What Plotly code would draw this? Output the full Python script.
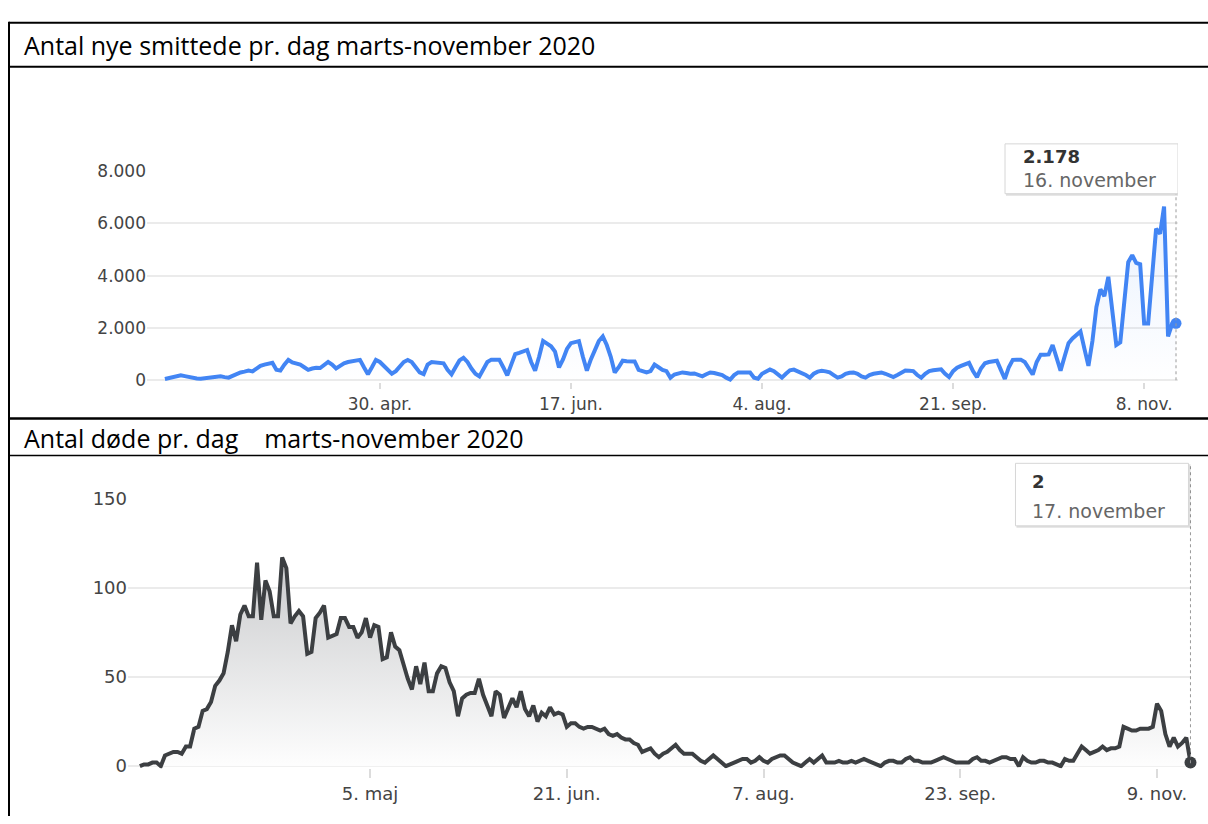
import pandas as pd
import plotly.graph_objects as go

W, H = 1208, 824

# ---- data ----
cases_start = "2020-03-07"
cases = [
    50, 80, 110, 150, 190, 160, 120, 80, 70, 60,
    80, 100, 120, 140, 150, 120, 100, 170, 240, 300,
    330, 370, 340, 450, 550, 600, 640, 670, 400, 370,
    600, 780, 680, 650, 600, 500, 400, 450, 480, 470,
    600, 700, 600, 450, 550, 650, 700, 730, 760, 780,
    500, 235, 500, 780, 700, 550, 400, 250, 350, 550,
    700, 780, 700, 500, 300, 235, 600, 700, 680, 660,
    650, 400, 230, 500, 760, 860, 700, 450, 250, 150,
    450, 700, 790, 780, 790, 500, 190, 600, 1000, 1050,
    1100, 1160, 700, 370, 900, 1500, 1400, 1300, 1100, 490,
    800, 1200, 1420, 1450, 1500, 900, 370, 800, 1200, 1500,
    1680, 1350, 900, 300, 500, 750, 730, 720, 720, 400,
    350, 300, 350, 600, 500, 400, 350, 100, 220, 280,
    300, 280, 250, 260, 200, 150, 230, 300, 280, 250,
    200, 100, 30, 200, 300, 300, 310, 300, 100, 60,
    250, 350, 410, 350, 200, 100, 250, 380, 410, 350,
    300, 200, 100, 250, 330, 360, 340, 300, 200, 100,
    150, 250, 290, 300, 250, 150, 100, 200, 250, 280,
    300, 250, 200, 120, 200, 300, 370, 360, 350, 200,
    100, 250, 350, 380, 400, 420, 250, 120, 350, 480,
    550, 620, 670, 350, 120, 450, 650, 700, 730, 750,
    400, 50, 500, 780, 790, 790, 700, 450, 220, 700,
    980, 980, 990, 1350, 800, 370, 900, 1420, 1600, 1750,
    1870, 1200, 550, 1500, 2800, 3480, 3220, 3960, 2500, 1350,
    1450, 3200, 4520, 4790, 4490, 4440, 2170, 2170, 3800, 5800,
    5610, 6650, 1680, 2150, 2178,
]

deaths_start = "2020-03-11"
deaths = [
    0, 1, 1, 2, 2, 0, 6, 7, 8, 8,
    7, 11, 11, 21, 22, 31, 32, 36, 45, 48,
    52, 64, 79, 70, 85, 90, 84, 84, 114, 82,
    104, 98, 84, 84, 117, 111, 80, 84, 87, 84,
    63, 64, 83, 86, 90, 72, 73, 74, 83, 83,
    78, 78, 72, 75, 83, 72, 79, 78, 60, 61,
    75, 67, 65, 56, 49, 43, 56, 46, 58, 42,
    42, 52, 56, 55, 47, 42, 28, 38, 40, 41,
    41, 49, 40, 34, 28, 42, 40, 27, 33, 38,
    33, 42, 32, 28, 34, 25, 30, 28, 33, 29,
    30, 29, 22, 24, 24, 22, 21, 22, 22, 21,
    20, 21, 18, 17, 18, 16, 15, 15, 13, 12,
    8, 9, 10, 7, 5, 7, 8, 10, 12, 9,
    7, 7, 7, 5, 3, 2, 4, 6, 4, 2,
    0, 1, 2, 3, 4, 4, 2, 3, 5, 3,
    2, 4, 5, 6, 6, 4, 2, 1, 0, 2,
    4, 2, 4, 6, 2, 2, 2, 3, 2, 2,
    3, 2, 3, 4, 3, 2, 1, 0, 2, 3,
    3, 2, 2, 4, 5, 3, 3, 2, 2, 2,
    3, 4, 5, 4, 3, 2, 2, 2, 2, 4,
    5, 3, 3, 2, 3, 4, 5, 5, 4, 4,
    0, 5, 3, 2, 2, 3, 3, 2, 2, 1,
    0, 4, 3, 3, 7, 11, 9, 7, 8, 9,
    11, 9, 10, 10, 11, 22, 21, 20, 20, 21,
    21, 21, 22, 35, 31, 18, 11, 16, 11, 13,
    16, 2,
]

cases_x_ticks = ["2020-04-30", "2020-06-17", "2020-08-04", "2020-09-21", "2020-11-08"]
cases_x_labels = ["30. apr.", "17. jun.", "4. aug.", "21. sep.", "8. nov."]
cases_y_ticks = [0, 2000, 4000, 6000, 8000]
cases_y_labels = ["0", "2.000", "4.000", "6.000", "8.000"]

deaths_x_ticks = ["2020-05-05", "2020-06-21", "2020-08-07", "2020-09-23", "2020-11-09"]
deaths_x_labels = ["5. maj", "21. jun.", "7. aug.", "23. sep.", "9. nov."]
deaths_y_ticks = [0, 50, 100, 150]
deaths_y_labels = ["0", "50", "100", "150"]

title_cases = "Antal nye smittede pr. dag marts-november 2020"
title_deaths = "Antal døde pr. dag\u00a0\u00a0\u00a0 marts-november 2020"

month_names = ["januar", "februar", "marts", "april", "maj", "juni", "juli",
               "august", "september", "oktober", "november", "december"]

cases_dates = pd.date_range(cases_start, periods=len(cases), freq="D")
deaths_dates = pd.date_range(deaths_start, periods=len(deaths), freq="D")


def px(x):
    return x / W


def py(y):
    return 1 - y / H


def dk_number(v):
    return f"{v:,}".replace(",", ".")


def dk_date(d):
    return f"{d.day}. {month_names[d.month - 1]}"


BLUE = "#4285f4"
DARK = "#3c3f42"
GRID = "#ebebeb"
TICK_FONT = "DejaVu Sans"

fig = go.Figure()

# ---- cases ----
fig.add_trace(go.Scatter(
    x=cases_dates, y=cases, mode="lines", xaxis="x", yaxis="y",
    line=dict(color=BLUE, width=4), fill="tozeroy",
    fillgradient=dict(type="vertical", start=0, stop=7000,
                      colorscale=[[0, "rgba(66,133,244,0)"], [1, "rgba(66,133,244,0.12)"]]),
    hoverinfo="skip", showlegend=False,
))
fig.add_trace(go.Scatter(
    x=[cases_dates[-1]], y=[cases[-1]], mode="markers", xaxis="x", yaxis="y",
    marker=dict(color=BLUE, size=11), cliponaxis=False,
    hoverinfo="skip", showlegend=False,
))

# ---- deaths ----
fig.add_trace(go.Scatter(
    x=deaths_dates, y=deaths, mode="lines", xaxis="x2", yaxis="y2",
    line=dict(color=DARK, width=4), fill="tozeroy",
    fillgradient=dict(type="vertical", start=0, stop=120,
                      colorscale=[[0, "rgba(255,255,255,1)"], [1, "#c9cacc"]]),
    hoverinfo="skip", showlegend=False,
))
fig.add_trace(go.Scatter(
    x=[deaths_dates[-1]], y=[deaths[-1]], mode="markers", xaxis="x2", yaxis="y2",
    marker=dict(color=DARK, size=12), cliponaxis=False,
    hoverinfo="skip", showlegend=False,
))

xaxis_common = dict(type="date", showgrid=False, zeroline=False, showline=False,
                    ticks="outside", tickwidth=2, tickcolor="#dcdcdc", fixedrange=True)
yaxis_common = dict(showgrid=True, gridcolor=GRID, gridwidth=1.5, zeroline=False,
                    showline=False, ticks="", fixedrange=True)

fig.update_layout(
    width=W, height=H,
    margin=dict(l=0, r=0, t=0, b=0),
    paper_bgcolor="white", plot_bgcolor="white",
    showlegend=False, hovermode=False,
    xaxis=dict(**xaxis_common, domain=[px(147), px(1178)],
               range=["2020-03-02 12:00", "2020-11-16 12:00"], anchor="y",
               tickvals=cases_x_ticks, ticktext=cases_x_labels, ticklen=6,
               tickfont=dict(family=TICK_FONT, size=17, color="#444")),
    yaxis=dict(**yaxis_common, domain=[py(380), py(164)], range=[-75, 8000], anchor="x",
               tickvals=cases_y_ticks, ticktext=cases_y_labels,
               tickfont=dict(family=TICK_FONT, size=17, color="#444")),
    xaxis2=dict(**xaxis_common, domain=[px(128), px(1191)],
                range=["2020-03-08 04:00", "2020-11-17 03:00"], anchor="y2",
                tickvals=deaths_x_ticks, ticktext=deaths_x_labels, ticklen=9,
                tickfont=dict(family=TICK_FONT, size=18, color="#444")),
    yaxis2=dict(**yaxis_common, domain=[py(775), py(499)], range=[-1.1, 150], anchor="x2",
                tickvals=deaths_y_ticks, ticktext=deaths_y_labels,
                tickfont=dict(family=TICK_FONT, size=18, color="#444")),
)

# ---- table borders ----
border = dict(color="black", width=2)
fig.add_shape(type="line", xref="paper", yref="paper", x0=px(9), x1=1, y0=py(12), y1=py(12), line=border)
fig.add_shape(type="line", xref="paper", yref="paper", x0=px(9), x1=1, y0=py(57), y1=py(57), line=border)
fig.add_shape(type="line", xref="paper", yref="paper", x0=px(9), x1=1, y0=py(417), y1=py(417),
              line=dict(color="black", width=2.5))
fig.add_shape(type="line", xref="paper", yref="paper", x0=px(9), x1=1, y0=py(455), y1=py(455),
              line=dict(color="black", width=1.5))
fig.add_shape(type="line", xref="paper", yref="paper", x0=px(9), x1=px(9), y0=py(11), y1=0, line=border)

for text, yc in [(title_cases, 35), (title_deaths, 437)]:
    fig.add_annotation(text=text, xref="paper", yref="paper", x=px(22), y=py(yc),
                       xanchor="left", yanchor="middle", showarrow=False,
                       font=dict(family="Open Sans", size=25, color="black"))


# ---- tooltips at the last point ----
def add_tooltip(xref, last_date, value_text, date_text, box_left, box_right,
                top, bottom, line_top, baseline, text_off, y_value, y_date):
    # dotted guide line
    fig.add_shape(type="line", xref=xref, yref="paper", x0=last_date, x1=last_date,
                  y0=py(baseline), y1=py(line_top),
                  line=dict(color="#9a9a9a", width=1, dash="dot"))
    # shadow and box
    fig.add_shape(type="rect", xref=xref, yref="paper", xsizemode="pixel", xanchor=last_date,
                  x0=box_left + 1, x1=box_right + 2, y0=py(bottom + 2), y1=py(top + 1),
                  fillcolor="rgba(0,0,0,0.13)", line=dict(width=0))
    fig.add_shape(type="rect", xref=xref, yref="paper", xsizemode="pixel", xanchor=last_date,
                  x0=box_left, x1=box_right, y0=py(bottom), y1=py(top),
                  fillcolor="white", line=dict(color="#d6d6d6", width=1))
    fig.add_annotation(text=f"<b>{value_text}</b>", xref=xref, yref="paper", x=last_date,
                       y=py(y_value), xanchor="left", yanchor="middle", xshift=text_off,
                       showarrow=False, font=dict(family=TICK_FONT, size=18, color="#333"))
    fig.add_annotation(text=date_text, xref=xref, yref="paper", x=last_date,
                       y=py(y_date), xanchor="left", yanchor="middle", xshift=text_off,
                       showarrow=False, font=dict(family=TICK_FONT, size=19, color="#666"))


add_tooltip("x", cases_dates[-1], dk_number(cases[-1]), dk_date(cases_dates[-1]),
            box_left=-171, box_right=2, top=136, bottom=187, line_top=187, baseline=378,
            text_off=-155, y_value=149, y_date=173)
add_tooltip("x2", deaths_dates[-1], dk_number(deaths[-1]), dk_date(deaths_dates[-1]),
            box_left=-175, box_right=-2, top=463, bottom=527, line_top=463, baseline=770,
            text_off=-160, y_value=482, y_date=512)

# page without the browser's default body margin, so the figure fills the window
fig.write_html("out.html", config={"displayModeBar": False},
               post_script="document.body.style.margin='0';document.body.style.overflow='hidden';")
